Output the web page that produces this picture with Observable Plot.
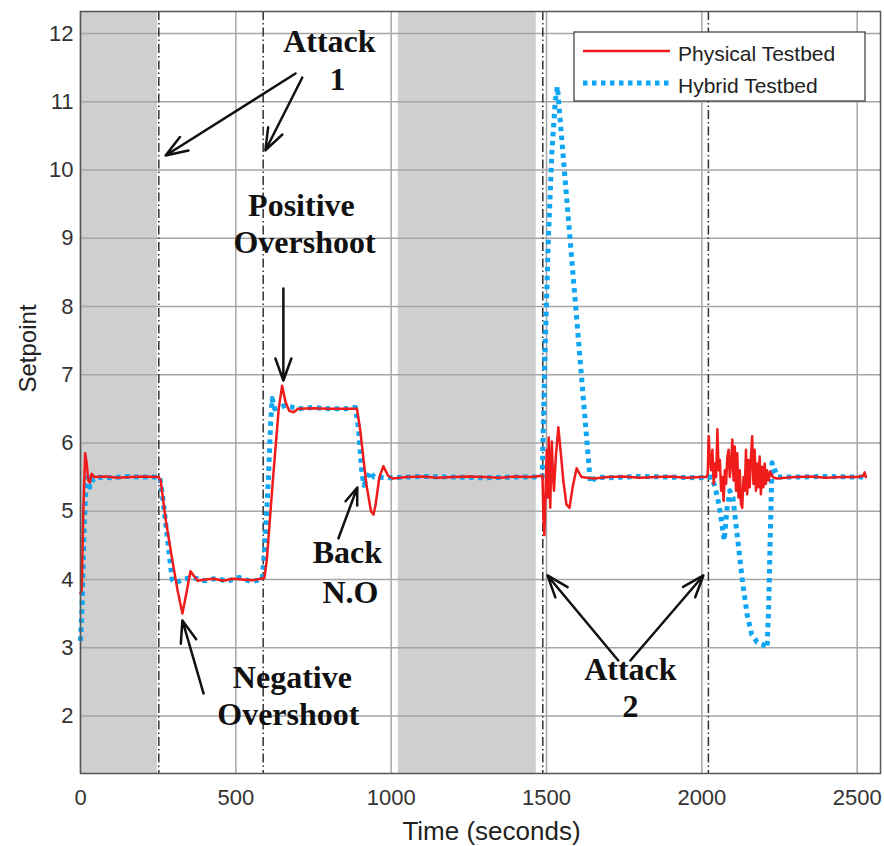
<!DOCTYPE html>
<html>
<head>
<meta charset="utf-8">
<script src="https://cdn.jsdelivr.net/npm/d3@7"></script>
<script src="https://cdn.jsdelivr.net/npm/@observablehq/plot@0.6"></script>
<style>
  body { margin: 0; background: #fff; }
  #chart { width: 884px; height: 846px; }
</style>
</head>
<body>
<div id="chart"></div>
<script>
// ---- Data (time in seconds, setpoint) ----
const physical = [
  [0,3.8],[4,3.85],[9,5.0],[15,5.85],[20,5.7],[25,5.45],[30,5.42],[36,5.55],[45,5.5],[80,5.51],[120,5.49],[160,5.5],[200,5.51],[252,5.5],
  [258,5.45],[275,4.85],[295,4.3],[312,3.85],[328,3.5],[340,3.78],[354,4.12],[365,4.05],[378,3.98],[400,4.0],[430,4.01],[460,3.98],[490,4.01],[520,4.0],[555,3.99],[592,4.02],
  [600,4.3],[620,5.5],[638,6.5],[649,6.84],[660,6.6],[672,6.47],[686,6.45],[700,6.5],[750,6.51],[800,6.5],[850,6.5],[890,6.5],
  [900,6.2],[920,5.4],[935,5.0],[943,4.95],[950,5.1],[962,5.5],[975,5.66],[990,5.52],[1005,5.48],[1050,5.5],[1100,5.51],[1150,5.49],[1200,5.5],[1250,5.51],[1300,5.5],[1350,5.49],[1400,5.51],[1450,5.5],[1487,5.52],
  [1490,4.9],[1493,4.65],[1497,5.3],[1501,5.9],[1504,5.2],[1507,6.08],[1510,5.4],[1512,5.05],[1515,5.7],[1517,6.02],[1521,5.5],[1524,5.3],[1530,5.8],[1538,6.23],[1546,5.85],[1554,5.45],[1564,5.1],[1574,5.05],[1584,5.35],[1597,5.63],[1606,5.55],[1613,5.5],
  [1650,5.48],[1700,5.5],[1750,5.51],[1800,5.49],[1850,5.5],[1900,5.51],[1950,5.49],[2000,5.5],[2015,5.5],
  [2019,5.55],[2022,6.1],[2026,5.75],[2030,5.6],[2034,5.9],[2038,5.4],[2042,5.7],[2046,5.5],[2050,6.2],[2054,5.6],[2058,5.75],[2062,5.3],[2066,5.5],[2070,5.15],[2074,5.6],[2078,5.4],[2082,5.8],[2086,5.9],[2090,5.5],[2094,5.7],[2098,6.05],[2102,5.45],[2106,5.95],[2110,5.3],[2114,5.85],[2118,5.2],[2122,5.6],[2126,5.1],[2130,5.05],[2134,5.5],[2138,5.3],[2142,5.9],[2146,5.25],[2150,5.75],[2154,5.35],[2158,5.8],[2162,6.1],[2166,5.4],[2170,5.9],[2174,5.3],[2178,5.7],[2182,5.35],[2186,5.8],[2190,5.25],[2194,5.65],[2198,5.35],[2202,5.7],[2206,5.4],[2210,5.6],[2215,5.45],[2220,5.58],[2228,5.5],
  [2240,5.48],[2300,5.5],[2350,5.51],[2400,5.49],[2450,5.5],[2500,5.5],[2520,5.52],[2524,5.57],[2528,5.5]
];
const hybrid = [
  [0,3.1],[5,3.6],[12,4.8],[18,5.4],[24,5.5],[30,5.35],[38,5.45],[50,5.5],[100,5.49],[150,5.51],[200,5.5],[255,5.5],
  [262,5.3],[280,4.6],[295,4.0],[305,3.95],[330,4.0],[360,4.03],[400,3.98],[440,4.02],[470,3.97],[510,4.03],[550,3.97],[585,4.0],
  [595,4.6],[605,5.5],[612,6.3],[617,6.65],[625,6.5],[660,6.55],[700,6.5],[750,6.52],[800,6.5],[850,6.5],[885,6.52],
  [895,6.2],[905,5.6],[912,5.38],[920,5.45],[932,5.58],[945,5.5],[1000,5.49],[1100,5.51],[1200,5.5],[1300,5.49],[1400,5.5],[1486,5.5],
  [1495,7.3],[1506,9.0],[1517,10.24],[1528,11.0],[1535,11.22],[1641,5.42],
  [1660,5.5],[1700,5.49],[1800,5.51],[1900,5.5],[1980,5.49],[2033,5.5],
  [2045,5.3],[2055,5.1],[2065,4.8],[2072,4.57],[2080,5.0],[2090,5.3],[2100,5.2],[2115,4.6],[2130,4.0],[2145,3.5],[2160,3.2],[2178,3.08],[2195,3.05],[2210,3.0],[2215,3.6],[2220,4.6],[2226,5.71],[2235,5.6],[2245,5.5],
  [2300,5.5],[2400,5.51],[2500,5.5],[2530,5.5]
];
const shadedSpans = [[0, 248], [1023, 1467]];
const attackTimes = [252, 588, 1488, 2021];
const xTicks = [0, 500, 1000, 1500, 2000, 2500];
const yTicks = [2, 3, 4, 5, 6, 7, 8, 9, 10, 11, 12];
const annotationText = ["Attack", "1", "Positive", "Overshoot", "Back", "N.O", "Negative", "Overshoot", "Attack", "2"];
const annotationX    = [801, 827, 711, 721, 859, 869, 682, 669, 1770, 1770];
const annotationY    = [11.722, 11.179, 9.319, 8.777, 4.234, 3.648, 2.403, 1.861, 2.52, 1.978];
const arrows = [
  [692, 11.414, 274, 10.212],
  [714, 11.355, 595, 10.286],
  [653, 8.264, 653, 6.916],
  [830, 4.601, 891, 5.348],
  [396, 2.330, 328, 3.40],
  [1731, 2.813, 1503, 4.059],
  [1770, 2.813, 2005, 4.059]
];
const seriesNames = ["Physical Testbed", "Hybrid Testbed"];
const seriesColors = ["#f01c1c", "#0ea5f2"];

const annotations = annotationText.map((t, i) => ({text: t, x: annotationX[i], y: annotationY[i]}));

const plot = Plot.plot({
  width: 884,
  height: 846,
  marginLeft: 80,
  marginRight: 4,
  marginTop: 11,
  marginBottom: 73,
  style: {fontFamily: "'Liberation Sans', Arial, sans-serif", fontSize: "22px", color: "#333", background: "#fff"},
  x: {domain: [0, 2575], label: null},
  y: {domain: [1.157, 12.322], label: null},
  marks: [
    Plot.rect(shadedSpans, {x1: d => d[0], x2: d => d[1], fill: "#cfcfcf"}),
    Plot.gridX(xTicks, {stroke: "#a6a6a6", strokeOpacity: 1, strokeWidth: 1.5}),
    Plot.gridY(yTicks, {stroke: "#a6a6a6", strokeOpacity: 1, strokeWidth: 1.5}),
    Plot.ruleX(attackTimes, {stroke: "#333", strokeWidth: 1.5, strokeDasharray: "9,3,1.5,3"}),
    Plot.line(hybrid, {x: d => d[0], y: d => d[1], stroke: seriesColors[1], strokeWidth: 5, strokeDasharray: "4.5,4.5", strokeLinecap: "butt", strokeLinejoin: "round"}),
    Plot.line(physical, {x: d => d[0], y: d => d[1], stroke: seriesColors[0], strokeWidth: 2.5}),
    Plot.arrow(arrows, {x1: d => d[0], y1: d => d[1], x2: d => d[2], y2: d => d[3], stroke: "#111", strokeWidth: 2.5, headLength: 14, headAngle: 40}),
    Plot.text(annotations, {x: "x", y: "y", text: "text", fontFamily: "'Liberation Serif', 'Times New Roman', serif", fontWeight: "bold", fontSize: 32, lineAnchor: "bottom", textAnchor: "middle", fill: "#111"}),
    Plot.axisX({ticks: xTicks, tickFormat: d => String(d), tickSize: 0, tickPadding: 16, label: null, fontSize: 22}),
    Plot.axisY({ticks: yTicks, tickFormat: d => String(d), tickSize: 0, tickPadding: 7, label: null, fontSize: 22}),
    Plot.frame({stroke: "#555", strokeWidth: 1.5}),
    Plot.text(["Time (seconds)"], {text: d => d, frameAnchor: "bottom", dy: 66, dx: 11, lineAnchor: "bottom", fontSize: 26, fill: "#222"}),
    Plot.text(["Setpoint"], {text: d => d, frameAnchor: "left", dx: -45, rotate: -90, lineAnchor: "bottom", fontSize: 24, fill: "#222"})
  ]
});

document.getElementById("chart").appendChild(plot);

// Legend box inside the plot (upper right)
const svg = d3.select(plot);
const lg = svg.append("g")
  .attr("font-family", "'Liberation Sans', Arial, sans-serif")
  .attr("font-size", 21)
  .attr("fill", "#222")
  .attr("text-anchor", "start");
lg.append("rect").attr("x", 574).attr("y", 32).attr("width", 291).attr("height", 69)
  .attr("fill", "#fff").attr("stroke", "#444").attr("stroke-width", 1.3);
seriesNames.forEach((name, i) => {
  const yLine = 51 + i * 32;
  lg.append("line").attr("x1", 583).attr("x2", 670).attr("y1", yLine).attr("y2", yLine)
    .attr("stroke", seriesColors[i])
    .attr("stroke-width", i === 0 ? 2.5 : 5)
    .attr("stroke-dasharray", i === 0 ? null : "4.5,4.5");
  lg.append("text").attr("x", 678).attr("y", yLine + 9.7).attr("text-anchor", "start").text(name);
});
</script>
</body>
</html>
